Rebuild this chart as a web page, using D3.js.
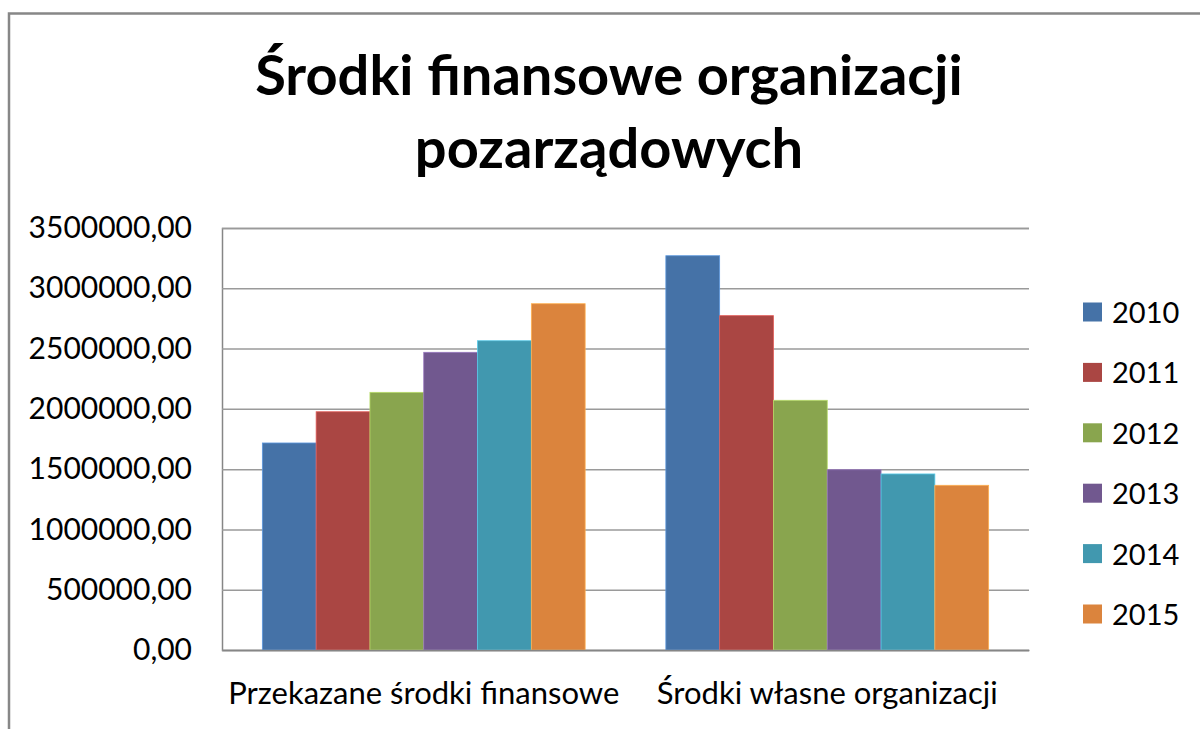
<!DOCTYPE html>
<html>
<head>
<meta charset="utf-8">
<script src="https://cdnjs.cloudflare.com/ajax/libs/d3/7.8.5/d3.min.js"></script>
<style>
    body { margin: 0; background: #fff; }
    text { font-family: Lato, "Open Sans", sans-serif; fill: #000; }
</style>
</head>
<body>
<div id="chart"></div>
<script>
const categories = ['Przekazane środki finansowe', 'Środki własne organizacji'];
const years = ['2010', '2011', '2012', '2013', '2014', '2015'];
const values_2010 = [1717000, 3270000];
const values_2011 = [1976000, 2773000];
const values_2012 = [2137000, 2071000];
const values_2013 = [2469000, 1495000];
const values_2014 = [2565000, 1460000];
const values_2015 = [2872000, 1366000];
const y_ticks = [0, 500000, 1000000, 1500000, 2000000, 2500000, 3000000, 3500000];
const title_lines = ['Środki finansowe organizacji', 'pozarządowych'];

const series = [values_2010, values_2011, values_2012, values_2013, values_2014, values_2015];
const colors = ['#4572A7', '#AA4643', '#89A54E', '#71588F', '#4198AF', '#DB843D'];

const chart_width = 1200;
const chart_height = 729;
const plot = { left: 222, right: 1029, top: 228, bottom: 650 };

const svg = d3.select('#chart')
    .append('svg')
    .attr('width', chart_width)
    .attr('height', chart_height);

// Outer frame
svg.append('rect')
    .attr('x', 9)
    .attr('y', 13.5)
    .attr('width', 1400)
    .attr('height', 1000)
    .attr('fill', 'none')
    .attr('stroke', '#878787')
    .attr('stroke-width', 2.5);

// Title
svg.append('g')
    .selectAll('text')
    .data(title_lines)
    .enter()
    .append('text')
    .attr('x', 609)
    .attr('y', (d, i) => 95 + i * 73)
    .attr('text-anchor', 'middle')
    .attr('font-size', 56)
    .attr('font-weight', 'bold')
    .text(d => d);

// Scales
const x0 = d3.scaleBand()
    .domain(categories)
    .range([plot.left, plot.right])
    .paddingInner(0.2)
    .paddingOuter(0.1);

const x1 = d3.scaleBand()
    .domain(years)
    .range([0, x0.bandwidth()]);

const y_scale = d3.scaleLinear()
    .domain([0, 3500000])
    .range([plot.bottom, plot.top]);

// Gridlines + y axis
const y_axis = d3.axisLeft(y_scale)
    .tickValues(y_ticks)
    .tickSize(-(plot.right - plot.left))
    .tickPadding(30)
    .tickFormat(d => d3.format('.2f')(d).replace('.', ','));

const y_g = svg.append('g')
    .attr('transform', `translate(${plot.left}, 0)`)
    .call(y_axis);
y_g.select('.domain').attr('stroke', '#868686').attr('stroke-width', 1.5);
y_g.selectAll('.tick line').attr('stroke', '#9a9a9a').attr('stroke-width', 1.5);
y_g.selectAll('.tick text')
    .attr('font-size', 30)
    .attr('font-family', 'Lato, sans-serif')
    .attr('fill', '#000');

// Bars
const bar_data = [];
categories.forEach((c, ci) => {
    years.forEach((yr, si) => bar_data.push({ c: c, yr: yr, v: series[si][ci], color: colors[si] }));
});

svg.append('g')
    .selectAll('rect')
    .data(bar_data)
    .enter()
    .append('rect')
    .attr('x', d => x0(d.c) + x1(d.yr))
    .attr('y', d => y_scale(d.v))
    .attr('width', x1.bandwidth())
    .attr('height', d => y_scale(0) - y_scale(d.v))
    .attr('fill', d => d.color)
    .attr('stroke', d => d3.color(d.color).brighter(0.8))
    .attr('stroke-width', 0.8);

// X axis
const x_axis = d3.axisBottom(x0).tickSize(0).tickPadding(32);
const x_g = svg.append('g')
    .attr('transform', `translate(0, ${plot.bottom})`)
    .call(x_axis);
x_g.select('.domain').attr('stroke', '#868686').attr('stroke-width', 1.5);
x_g.selectAll('.tick text')
    .attr('font-size', 31)
    .attr('font-family', 'Lato, sans-serif')
    .attr('fill', '#000');

// Legend
const legend = svg.append('g')
    .selectAll('g')
    .data(years)
    .enter()
    .append('g')
    .attr('transform', (d, i) => `translate(1083, ${312 + i * 60.4})`);

legend.append('rect')
    .attr('x', 0)
    .attr('y', -9.5)
    .attr('width', 19)
    .attr('height', 19)
    .attr('fill', (d, i) => colors[i]);

legend.append('text')
    .attr('x', 29)
    .attr('y', 11)
    .attr('font-size', 29)
    .text(d => d);
</script>
</body>
</html>
